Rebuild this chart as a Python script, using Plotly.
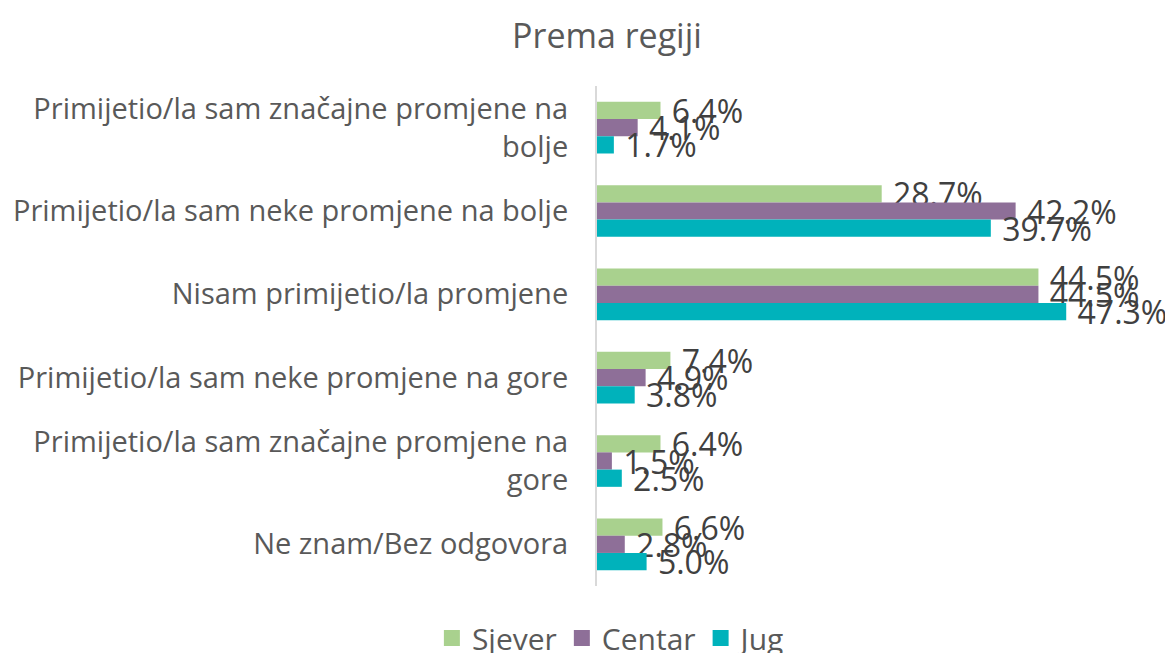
"""
Prema regiji: grouped horizontal bars, three regions.
"""

import plotly.graph_objects as go

categories = [
    "Primijetio/la sam značajne promjene na<br>bolje",
    "Primijetio/la sam neke promjene na bolje",
    "Nisam primijetio/la promjene",
    "Primijetio/la sam neke promjene na gore",
    "Primijetio/la sam značajne promjene na<br>gore",
    "Ne znam/Bez odgovora",
]

sjever = [6.4, 28.7, 44.5, 7.4, 6.4, 6.6]
centar = [4.1, 42.2, 44.5, 4.9, 1.5, 2.8]
jug = [1.7, 39.7, 47.3, 3.8, 2.5, 5.0]

series = [
    ("Sjever", sjever, "#a9d18e"),
    ("Centar", centar, "#8e6f98"),
    ("Jug", jug, "#00b2bb"),
]

FONT = "Open Sans"

fig = go.Figure()
for name, vals, color in series:
    fig.add_trace(
        go.Bar(
            y=categories, x=vals, name=name, orientation="h",
            marker=dict(color=color, line=dict(width=0)),
            text=[f"{v:.1f}%" for v in vals],
            texttemplate=" %{text}",
            textposition="outside",
            constraintext="none",
            cliponaxis=False,
            textfont=dict(family=FONT, size=32, color="#404040"),
            showlegend=False,
        )
    )

# legend entries with bigger square swatches
for name, vals, color in series:
    fig.add_trace(
        go.Scatter(
            x=[None], y=[None], mode="markers", name=name,
            marker=dict(symbol="square", size=17, color=color),
        )
    )

fig.update_layout(
    width=1165, height=653,
    margin=dict(l=597, r=72, t=86, b=67, autoexpand=False),
    paper_bgcolor="white", plot_bgcolor="white",
    barmode="group", bargap=0.38, bargroupgap=0,
    title=dict(
        text="Prema regiji", x=0.521, xanchor="center", y=0.945, yanchor="middle",
        font=dict(family=FONT, size=34, color="#595959"),
    ),
    legend=dict(
        orientation="h", x=0.03, xanchor="center", y=-0.104, yanchor="middle",
        font=dict(family=FONT, size=30, color="#595959"),
        itemwidth=30, tracegroupgap=0,
    ),
    showlegend=True,
)
fig.update_xaxes(range=[0, 50], showgrid=False, zeroline=False, showticklabels=False)
fig.update_yaxes(
    autorange="reversed", showline=True, linecolor="#d9d9d9", linewidth=2,
    ticks="", ticklabelstandoff=21, automargin=False,
    tickfont=dict(family=FONT, size=29, color="#595959"),
)

fig.write_html(
    "out.html",
    config={"displayModeBar": False},
    post_script="document.body.style.margin='0';",
)
